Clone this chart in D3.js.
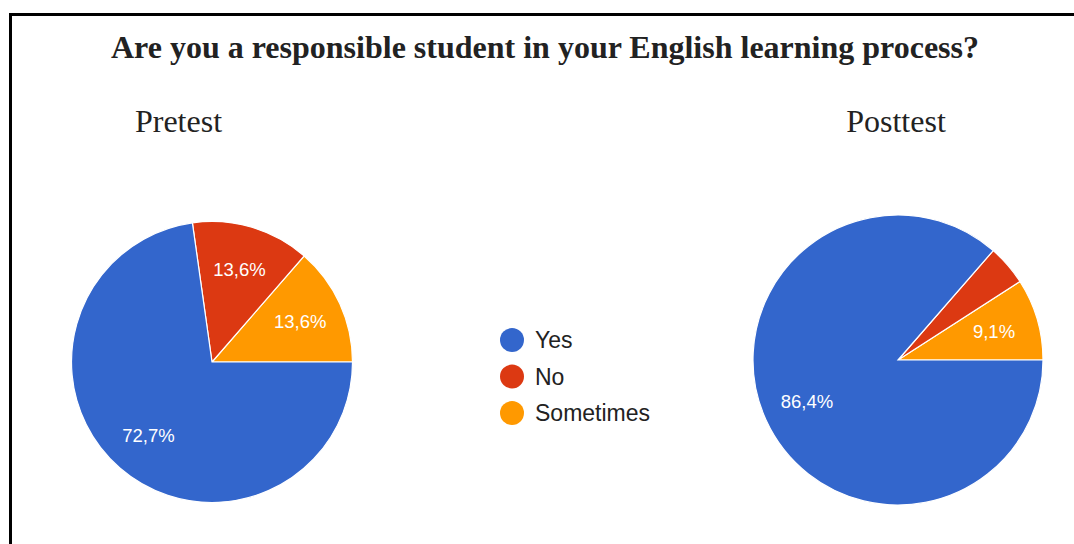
<!DOCTYPE html>
<html>
<head>
<meta charset="utf-8">
<script src="https://cdn.jsdelivr.net/npm/d3@7"></script>
<style>
  html, body { margin: 0; padding: 0; background: #fff; }
  svg { display: block; }
</style>
</head>
<body>
<svg id="chart" width="1074" height="544"></svg>
<script>
// Survey answers, in percent
const categories = ["Yes", "No", "Sometimes"];
const pretestValues = [72.7, 13.6, 13.6];
const posttestValues = [86.4, 4.5, 9.1];
const pretestLabels = ["72,7%", "13,6%", "13,6%"];
const posttestLabels = ["86,4%", "", "9,1%"];
const colors = ["#3366cc", "#dc3912", "#ff9900"];

const title = "Are you a responsible student in your English learning process?";

const svg = d3.select("#chart");

// Frame (only the top and left edges sit inside the page)
svg.append("rect")
  .attr("x", 10.5).attr("y", 14.5)
  .attr("width", 1200).attr("height", 700)
  .attr("fill", "none").attr("stroke", "#000").attr("stroke-width", 3);

svg.append("text")
  .attr("x", 545).attr("y", 58)
  .attr("text-anchor", "middle")
  .attr("font-family", "'Liberation Serif', 'Times New Roman', serif")
  .attr("font-weight", "bold")
  .attr("font-size", 32)
  .attr("fill", "#222")
  .text(title);

const color = d3.scaleOrdinal().domain(categories).range(colors);

// Slices run counter-clockwise from three o'clock: Sometimes, No, then Yes
const pie = d3.pie()
  .value(d => d.value)
  .sort(null)
  .startAngle(Math.PI / 2)
  .endAngle(Math.PI / 2 - 2 * Math.PI);

function drawPie(name, values, labels, cx, cy, r, titleX) {
  svg.append("text")
    .attr("x", titleX).attr("y", 132)
    .attr("text-anchor", "middle")
    .attr("font-family", "'Liberation Serif', 'Times New Roman', serif")
    .attr("font-size", 32)
    .attr("fill", "#222")
    .text(name);

  const rows = categories.map((c, i) => ({ cat: c, value: values[i], label: labels[i] })).reverse();
  const arcs = pie(rows);
  const arc = d3.arc().innerRadius(0).outerRadius(r);
  const labelArc = d3.arc().innerRadius(r * 0.69).outerRadius(r * 0.69);

  const g = svg.append("g").attr("transform", `translate(${cx},${cy})`);
  g.selectAll("path").data(arcs).join("path")
    .attr("d", arc)
    .attr("fill", d => color(d.data.cat))
    .attr("stroke", "#fff")
    .attr("stroke-width", 1.2);

  g.selectAll("text").data(arcs.filter(d => d.data.label)).join("text")
    .attr("transform", d => `translate(${labelArc.centroid(d)})`)
    .attr("text-anchor", "middle")
    .attr("dy", "0.36em")
    .attr("font-family", "'Liberation Sans', Arial, sans-serif")
    .attr("font-size", 18.5)
    .attr("fill", "#fff")
    .text(d => d.data.label);
}

drawPie("Pretest", pretestValues, pretestLabels, 212, 362, 140.5, 178.5);
drawPie("Posttest", posttestValues, posttestLabels, 898, 360, 145, 896);

// Legend
const legend = svg.append("g");
const ly = d3.scalePoint().domain(categories).range([340, 413]);
const items = legend.selectAll("g").data(categories).join("g")
  .attr("transform", d => `translate(512,${ly(d)})`);
items.append("circle").attr("r", 12).attr("fill", d => color(d));
items.append("text")
  .attr("x", 23).attr("dy", "0.36em")
  .attr("font-family", "'Liberation Sans', Arial, sans-serif")
  .attr("font-size", 23)
  .attr("fill", "#222")
  .text(d => d);
</script>
</body>
</html>
